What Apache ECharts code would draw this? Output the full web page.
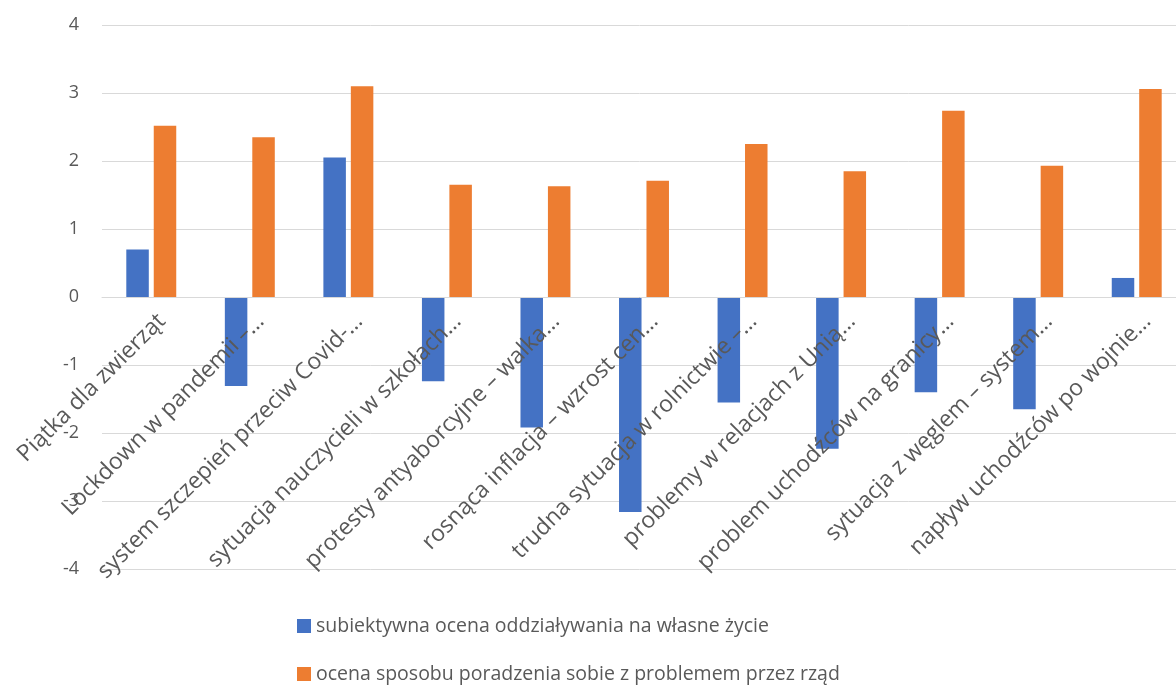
<!DOCTYPE html>
<html>
<head>
<meta charset="utf-8">
<script src="https://cdn.jsdelivr.net/npm/echarts@6/dist/echarts.min.js"></script>
<style>
html,body{margin:0;padding:0;background:#fff;}
#chart{width:1176px;height:686px;}
</style>
</head>
<body>
<div id="chart"></div>
<script>
const categories = [
  "Piątka dla zwierząt",
  "Lockdown w pandemii –…",
  "system szczepień przeciw Covid-…",
  "sytuacja nauczycieli w szkołach…",
  "protesty antyaborcyjne – walka…",
  "rosnąca inflacja – wzrost cen…",
  "trudna sytuacja w rolnictwie –…",
  "problemy w relacjach z Unią…",
  "problem uchodźców na granicy…",
  "sytuacja z węglem – system…",
  "napływ uchodźców po wojnie…"
];
const seriesNames = [
  "subiektywna ocena oddziaływania na własne życie",
  "ocena sposobu poradzenia sobie z problemem przez rząd"
];
const impactValues = [0.70, -1.31, 2.05, -1.24, -1.92, -3.16, -1.55, -2.23, -1.40, -1.65, 0.28];
const governmentValues = [2.52, 2.35, 3.10, 1.65, 1.63, 1.71, 2.25, 1.85, 2.74, 1.93, 3.06];
const yTicks = { min: -4, max: 4, interval: 1 };

const font = "'Open Sans', 'Noto Sans', sans-serif";
const chart = echarts.init(document.getElementById('chart'), null, { renderer: 'canvas' });
const labelGap = 10;
chart.setOption({
  animation: false,
  backgroundColor: '#ffffff',
  textStyle: { fontFamily: font },
  grid: { left: 102, right: -10, top: 25, bottom: 117, containLabel: false, outerBoundsMode: 'none' },
  legend: {
    orient: 'vertical',
    left: 297,
    top: 616,
    height: 70,
    padding: 0,
    itemWidth: 14,
    itemHeight: 14,
    itemGap: 28,
    icon: 'rect',
    textStyle: { fontSize: 19.5, lineHeight: 20, color: '#595959', fontFamily: font },
    data: seriesNames
  },
  xAxis: {
    type: 'category',
    data: categories,
    z: 10,
    axisLine: { onZero: true, lineStyle: { color: '#d9d9d9', width: 1 } },
    axisTick: { show: false },
    axisLabel: {
      rotate: 45,
      interval: 0,
      fontSize: 23,
      lineHeight: 30,
      verticalAlign: 'top',
      color: '#595959',
      fontFamily: font,
      margin: labelGap
    }
  },
  yAxis: {
    type: 'value',
    min: yTicks.min,
    max: yTicks.max,
    interval: yTicks.interval,
    axisLine: { show: false },
    axisTick: { show: false },
    splitLine: { lineStyle: { color: '#d9d9d9', width: 1 } },
    axisLabel: { fontSize: 18, color: '#595959', margin: 23, fontFamily: font }
  },
  series: [
    {
      name: seriesNames[0],
      type: 'bar',
      data: impactValues,
      barWidth: 22.5,
      barGap: '22%',
      itemStyle: { color: '#4472c4' }
    },
    {
      name: seriesNames[1],
      type: 'bar',
      data: governmentValues,
      barWidth: 22.5,
      itemStyle: { color: '#ed7d31' }
    }
  ]
});
// place category labels next to the zero line (Excel "next to axis")
const yBottom = chart.convertToPixel({ yAxisIndex: 0 }, yTicks.min);
const yZero = chart.convertToPixel({ yAxisIndex: 0 }, 0);
chart.setOption({ xAxis: { axisLabel: { margin: labelGap - (yBottom - yZero) } } });
</script>
</body>
</html>
